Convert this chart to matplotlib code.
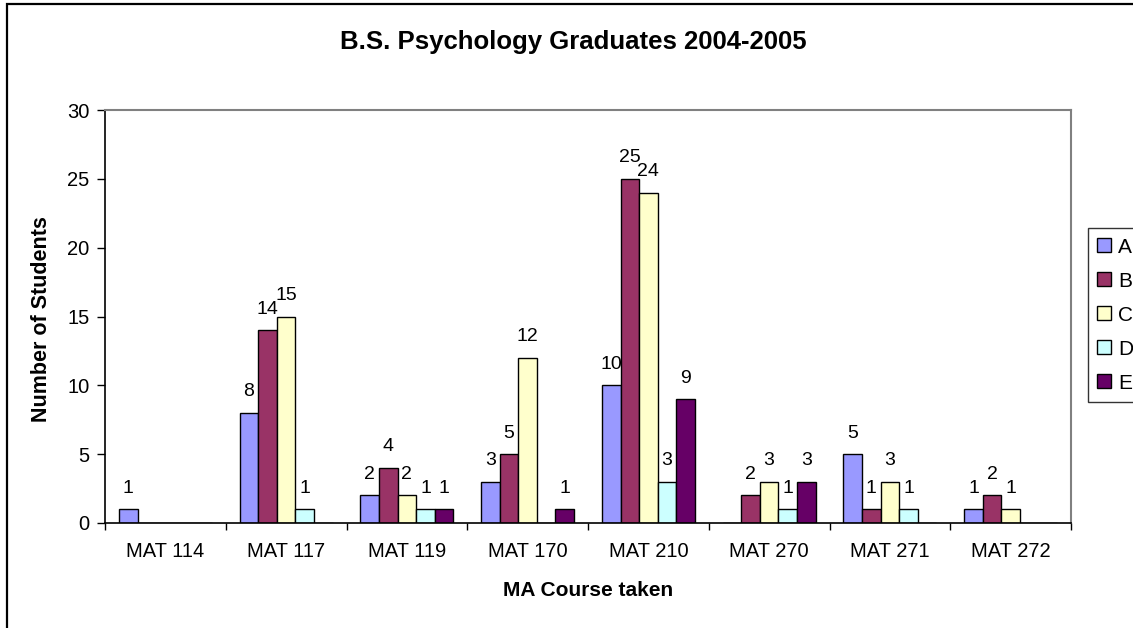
import matplotlib
matplotlib.use("Agg")
import matplotlib.pyplot as plt
from matplotlib.patches import Rectangle, Patch
from matplotlib.ticker import FixedLocator, NullFormatter
import numpy as np

plt.rcParams['font.family'] = ['Liberation Sans', 'DejaVu Sans']

categories = ["MAT 114", "MAT 117", "MAT 119", "MAT 170", "MAT 210", "MAT 270", "MAT 271", "MAT 272"]
series_names = ["A", "B", "C", "D", "E"]
A = [1, 8, 2, 3, 10, 0, 5, 1]
B = [0, 14, 4, 5, 25, 2, 1, 2]
C = [0, 15, 2, 12, 24, 3, 3, 1]
D = [0, 1, 1, 0, 3, 1, 1, 0]
E = [0, 0, 1, 1, 9, 3, 0, 0]
series_values = [A, B, C, D, E]
colors = ["#9999FF", "#993366", "#FFFFCC", "#CCFFFF", "#660066"]

W, H = 1133, 628
fig = plt.figure(figsize=(W / 100, H / 100), dpi=100)

# outer chart border
fig.patches.append(Rectangle((7 / W, -0.1), 2, 1.1 - 4 / H, transform=fig.transFigure,
                             fill=False, edgecolor='black', linewidth=1.6))

left, right, top, bottom = 105, 1071, 110, 523
ax = fig.add_axes([left / W, 1 - bottom / H, (right - left) / W, (bottom - top) / H])

n = len(series_names)
bw = 1.0 / (n + 1.5)
x = np.arange(len(categories))
for i, (name, vals, col) in enumerate(zip(series_names, series_values, colors)):
    xs = x + (i - (n - 1) / 2) * bw
    ax.bar(xs, vals, width=bw, color=col, edgecolor='black', linewidth=1.0, label=name, zorder=2)
    for xi, v in zip(xs, vals):
        if v != 0:
            ax.annotate(str(v), (xi, v), xytext=(0, 9), textcoords='offset points',
                        ha='center', va='bottom', fontsize=14)

ax.set_xlim(-0.5, len(categories) - 0.5)
ax.set_ylim(0, 30)
ax.set_yticks([0, 5, 10, 15, 20, 25, 30])
ax.tick_params(axis='y', labelsize=14.5, length=6, width=1, direction='out', pad=5)
ax.xaxis.set_major_locator(FixedLocator(np.arange(len(categories) + 1) - 0.5))
ax.xaxis.set_major_formatter(NullFormatter())
ax.xaxis.set_minor_locator(FixedLocator(x))
ax.set_xticks(x, categories, minor=True)
ax.tick_params(axis='x', which='major', length=5, width=1, direction='out')
ax.tick_params(axis='x', which='minor', length=0, labelsize=14.5, pad=14)

for s in ['top', 'right']:
    ax.spines[s].set_color('#808080')
    ax.spines[s].set_linewidth(1.5)
for s in ['left', 'bottom']:
    ax.spines[s].set_color('black')
    ax.spines[s].set_linewidth(1.2)

fig.text(588 / W, 1 - 590 / H, "MA Course taken", ha='center', va='center',
         fontsize=15, fontweight='bold')
fig.text(42 / W, 1 - 319 / H, "Number of Students", ha='center', va='center',
         rotation=90, fontsize=15.5, fontweight='bold')
fig.text(573 / W, 1 - 42 / H, "B.S. Psychology Graduates 2004-2005", ha='center', va='center',
         fontsize=18.5, fontweight='bold')

handles = [Patch(facecolor=c, edgecolor='black', linewidth=1.0) for c in colors]
leg = fig.legend(handles, series_names, loc='lower left', bbox_to_anchor=(1088 / W, 1 - 402 / H),
                 frameon=True, fancybox=False, edgecolor='black', fontsize=15,
                 handlelength=0.65, handleheight=0.65, handletextpad=0.35, labelspacing=0.72,
                 borderpad=0.45, borderaxespad=0)
leg.get_frame().set_linewidth(1.0)

fig.savefig("out.png", dpi=100)
